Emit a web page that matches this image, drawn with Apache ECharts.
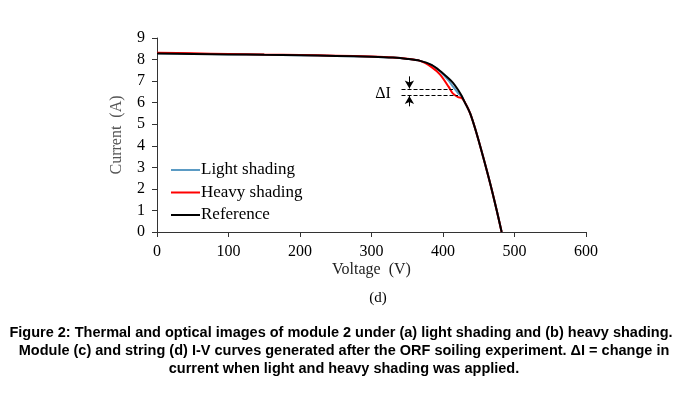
<!DOCTYPE html>
<html>
<head>
<meta charset="utf-8">
<script src="https://cdn.jsdelivr.net/npm/echarts@6/dist/echarts.min.js"></script>
<style>
  html, body { margin: 0; padding: 0; background: #fff; }
  #chart { width: 699px; height: 393px; }
</style>
</head>
<body>
<div id="chart"></div>
<script>
// voltage grid (V) shared by the three I-V curves
var voltage = [0, 50, 100, 150, 200, 250, 300, 330, 350, 368, 384, 396, 408, 414, 421, 426, 430, 438, 447, 456, 466, 475, 482];
var lightCurrent = [8.29, 8.27, 8.25, 8.22, 8.2, 8.17, 8.13, 8.09, 8.03, 7.94, 7.74, 7.45, 7.02, 6.74, 6.45, 6.3, 6.05, 5.5, 4.57, 3.5, 2.25, 1.02, 0];
var heavyCurrent = [8.32, 8.29, 8.26, 8.23, 8.21, 8.18, 8.14, 8.1, 8.04, 7.94, 7.65, 7.3, 6.73, 6.42, 6.26, 6.22, 6.05, 5.5, 4.57, 3.5, 2.25, 1.02, 0];
var refCurrent = [8.28, 8.26, 8.24, 8.22, 8.2, 8.17, 8.13, 8.09, 8.03, 7.94, 7.75, 7.47, 7.12, 6.92, 6.6, 6.32, 6.05, 5.5, 4.57, 3.5, 2.25, 1.02, 0];
var xTicks = [0, 100, 200, 300, 400, 500, 600];
var yTicks = [0, 1, 2, 3, 4, 5, 6, 7, 8, 9];

// delta I annotation
var deltaTop = 6.64, deltaBottom = 6.33;
var captionLines = [
  'Figure 2: Thermal and optical images of module 2 under (a) light shading and (b) heavy shading.',
  'Module (c) and string (d) I-V curves generated after the ORF soiling experiment. \u0394I = change in',
  'current when light and heavy shading was applied.'
];

function pairs(ys) {
  return voltage.map(function (v, i) { return [v, ys[i]]; });
}

var serif = '"Liberation Serif", "DejaVu Serif", serif';
var captionFont = 'bold 14.5px "Liberation Sans", Arial, sans-serif';
var chart = echarts.init(document.getElementById('chart'));

var option = {
  animation: false,
  backgroundColor: '#fff',
  grid: { left: 157, right: 113, top: 38, bottom: 161 },
  legend: {
    orient: 'vertical',
    left: 171,
    top: 160,
    padding: 0,
    itemWidth: 29,
    itemHeight: 2,
    itemGap: 2.5,
    icon: 'rect',
    data: ['Light shading', 'Heavy shading', 'Reference'],
    textStyle: { fontFamily: serif, fontSize: 17, color: '#000', lineHeight: 20, padding: [0, 0, 0, -4] }
  },
  xAxis: {
    type: 'value',
    min: xTicks[0],
    max: xTicks[xTicks.length - 1],
    interval: 100,
    name: 'Voltage  (V)',
    nameLocation: 'middle',
    nameGap: 30,
    nameTextStyle: { fontFamily: serif, fontSize: 16, color: '#222' },
    axisLine: { lineStyle: { color: '#333', width: 1 } },
    axisTick: { show: true, length: 5, lineStyle: { color: '#333' } },
    axisLabel: { fontFamily: serif, fontSize: 16, color: '#000', margin: 12 },
    splitLine: { show: false }
  },
  yAxis: {
    type: 'value',
    min: yTicks[0],
    max: yTicks[yTicks.length - 1],
    interval: 1,
    name: 'Current  (A)',
    nameLocation: 'middle',
    nameGap: 32,
    nameTextStyle: { fontFamily: serif, fontSize: 16, color: '#555' },
    axisLine: { show: true, lineStyle: { color: '#333', width: 1 } },
    axisTick: { show: true, length: 5, lineStyle: { color: '#333' } },
    axisLabel: { fontFamily: serif, fontSize: 16, color: '#000', margin: 12 },
    splitLine: { show: false }
  },
  series: [
    {
      name: 'Light shading', type: 'line', data: pairs(lightCurrent),
      smooth: 0.3, showSymbol: false, color: '#5b9bc4', lineStyle: { width: 2 }
    },
    {
      name: 'Heavy shading', type: 'line', data: pairs(heavyCurrent),
      smooth: 0.3, showSymbol: false, color: '#ff0000', lineStyle: { width: 2 }
    },
    {
      name: 'Reference', type: 'line', data: pairs(refCurrent),
      smooth: 0.3, showSymbol: false, color: '#000', lineStyle: { width: 2 },
      markLine: {
        silent: true,
        animation: false,
        label: { show: false },
        data: [
          [{ coord: [342, deltaTop], symbol: 'none', lineStyle: { type: 'dashed', width: 1, color: '#000' } },
           { coord: [414, deltaTop], symbol: 'none' }],
          [{ coord: [342, deltaBottom], symbol: 'none', lineStyle: { type: 'dashed', width: 1, color: '#000' } },
           { coord: [421, deltaBottom], symbol: 'none' }],
          [{ coord: [353, 7.22], symbol: 'none', lineStyle: { type: 'solid', width: 1, color: '#000' } },
           { coord: [353, deltaTop + 0.02], symbol: 'arrow', symbolSize: [7, 8] }],
          [{ coord: [353, 5.83], symbol: 'none', lineStyle: { type: 'solid', width: 1, color: '#000' } },
           { coord: [353, deltaBottom - 0.02], symbol: 'arrow', symbolSize: [7, 8] }]
        ]
      },
      markPoint: {
        silent: true,
        symbolSize: 0,
        label: { show: true, formatter: '\u0394I', fontFamily: serif, fontSize: 16, color: '#000', position: 'inside' },
        data: [{ coord: [316, 6.42] }]
      }
    }
  ],
  graphic: [
    { type: 'text', x: 378, y: 298, style: { text: '(d)', font: '15px ' + serif, fill: '#000', textAlign: 'center', textVerticalAlign: 'middle' } },
    { type: 'text', x: 341, y: 333, style: { text: captionLines[0], font: captionFont, fill: '#000', textAlign: 'center', textVerticalAlign: 'middle' } },
    { type: 'text', x: 344, y: 351, style: { text: captionLines[1], font: captionFont, fill: '#000', textAlign: 'center', textVerticalAlign: 'middle' } },
    { type: 'text', x: 344, y: 369, style: { text: captionLines[2], font: captionFont, fill: '#000', textAlign: 'center', textVerticalAlign: 'middle' } }
  ]
};
chart.setOption(option);
</script>
</body>
</html>
